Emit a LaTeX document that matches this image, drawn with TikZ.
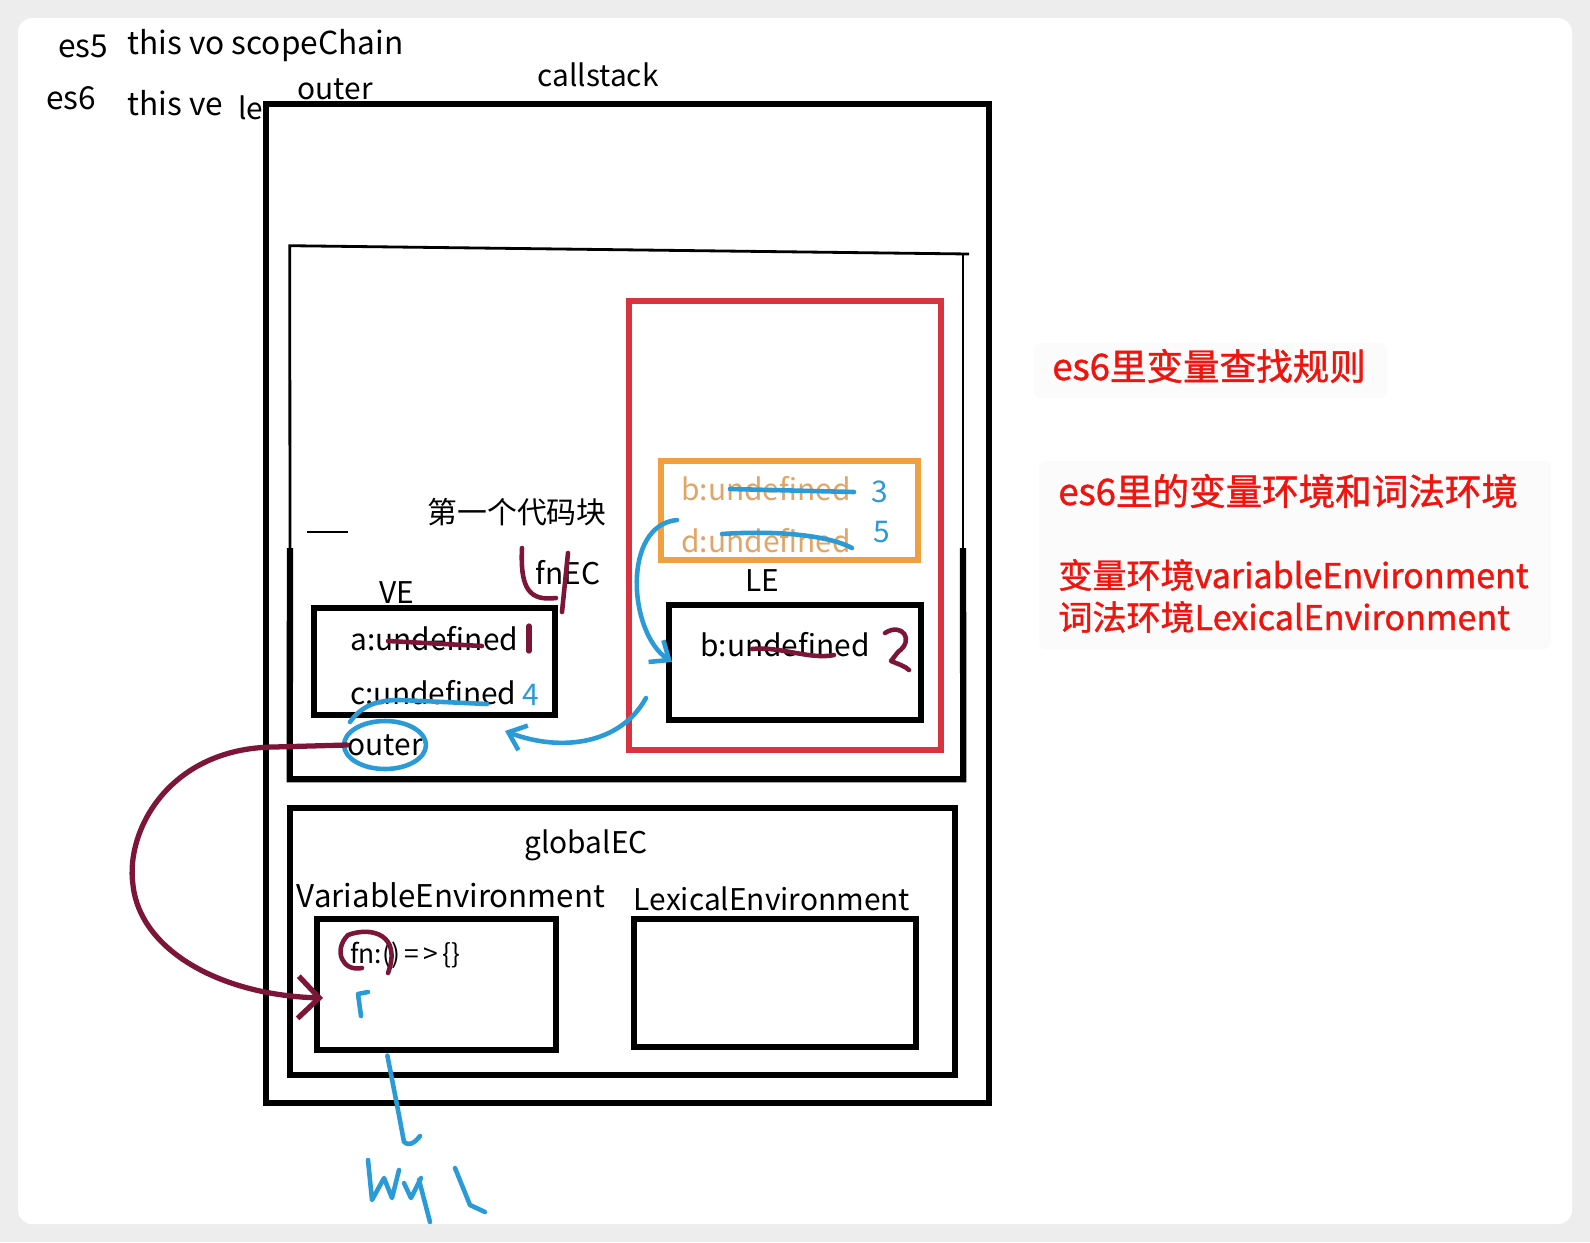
\documentclass[tikz,border=0pt]{standalone}
\usepackage{fontspec}
\setmainfont{Noto Sans CJK SC}
\newfontfamily\notefont[FakeBold=1.2]{Noto Sans CJK SC}
\usetikzlibrary{arrows.meta}

\definecolor{maroon}{HTML}{7D1538}
\definecolor{penblue}{HTML}{2B9BD8}
\definecolor{boxred}{HTML}{D9333F}
\definecolor{boxorange}{HTML}{F0A040}
\definecolor{fadedorange}{HTML}{E3A566}
\definecolor{notered}{HTML}{F0140F}

\tikzset{
  txt/.style={inner sep=0pt, font=\fontsize{17}{19}\selectfont},
  small/.style={inner sep=0pt, font=\fontsize{15}{17}\selectfont},
  note/.style={inner sep=0pt, text=notered, font=\notefont\fontsize{19.4}{21}\selectfont},
  ecbox/.style={draw=black, line width=3.6pt},
  envbox/.style={draw=black, line width=3pt},
  pen/.style={line width=2.6pt, line cap=round, line join=round},
  notebg/.style={fill=black!1.5, rounded corners=4pt},
}

\begin{document}
\begin{tikzpicture}[x=0.02cm, y=-0.02cm]
\useasboundingbox (0,0) rectangle (1590,1242);
\fill[black!7] (0,0) rectangle (1590,1242);
\fill[white, rounded corners=8pt] (18,18) rectangle (1572,1224);

% es5 / es6 headings
\node[txt, anchor=west, font=\fontsize{18}{20}\selectfont] (es5) at (58,46) {es5};
\node[txt, anchor=west, font=\fontsize{18}{20}\selectfont] (es5list) at (127,46) {this vo scopeChain};
\node[txt, anchor=west, font=\fontsize{18}{20}\selectfont] (es6) at (46,98) {es6};
\node[txt, anchor=west, font=\fontsize{18}{20}\selectfont] (es6list) at (127,103) {this ve};
\node[txt, anchor=west] (le) at (238,108) {le};
\node[txt] (outerhd) at (335,89) {outer};
\node[txt] (callstack) at (598,75) {callstack};

% call stack
\node[ecbox, minimum width=14.46cm, minimum height=19.98cm] (stack) at (627.5,603.5) {};

% fnEC frame (top part drawn thin)
\node[minimum width=13.46cm, minimum height=10.66cm] (fnec) at (626.5,512.5) {};
\draw[line width=1.6pt] (290,548) -- (fnec.north west) -- (969,254);
\draw[line width=1.6pt] (963,254) -- (963,548);
\draw[ecbox] (290,548) -- (fnec.south west) -- (fnec.south east) -- (963,548);
\draw[line width=1pt] (307,532) -- (348,532);
\node[txt] (block) at (517,512) {第一个代码块};
\node[txt] (fnlbl) at (568,573) {fnEC};

% VE of fnEC
\node[txt] (velbl) at (397,593) {VE};
\node[envbox, minimum width=4.82cm, minimum height=2.14cm] (ve) at (434.5,661.5) {};
\node[txt, anchor=west] (avar) at (350,639) {a:undefined};
\node[txt, anchor=west] (cvar) at (350,693) {c:undefined};
\node[txt, text=penblue] (four) at (531,695) {4};
\node[txt] (outer) at (385,745) {outer};

% block scope (red) with LE
\node[draw=boxred, line width=3pt, minimum width=6.24cm, minimum height=8.98cm] (scope) at (785,525.5) {};
\node[draw=boxorange, line width=3pt, minimum width=5.14cm, minimum height=1.98cm] (blockle) at (789.5,510.5) {};
\node[txt, anchor=west, text=fadedorange] (bblk) at (681,489) {b:undefined};
\node[txt, anchor=west, text=fadedorange] (dblk) at (681,541) {d:undefined};
\node[txt, text=penblue] (three) at (880,492) {3};
\node[txt, text=penblue] (five) at (882,532) {5};
\node[txt] (lelbl) at (762,581) {LE};
\node[envbox, minimum width=5.04cm, minimum height=2.3cm] (lebox) at (795,662.5) {};
\node[txt, anchor=west] (bvar) at (700,645) {b:undefined};

% global EC
\node[ecbox, minimum width=13.3cm, minimum height=5.34cm] (global) at (622.5,941.5) {};
\node[txt] (globallbl) at (586,845) {globalEC};
\node[txt, font=\fontsize{17.8}{19}\selectfont] (gvelbl) at (451,895) {VariableEnvironment};
\node[txt] (glelbl) at (772,899) {LexicalEnvironment};
\node[envbox, minimum width=4.78cm, minimum height=2.62cm] (gve) at (436.5,984.5) {};
\node[envbox, minimum width=5.64cm, minimum height=2.56cm] (gle) at (775,983) {};
\node[small, anchor=west] (fnvar) at (350,955) {fn:()\,=\,>\,\{\}};
\coordinate (fnslot) at (323,998);

% notes on the right
\fill[notebg] (1034,343) rectangle (1387,398);
\fill[notebg] (1039,461) rectangle (1551,649);
\node[note, anchor=west, font=\notefont\fontsize{20.8}{22}\selectfont] (rule) at (1052,366) {es6里变量查找规则};
\node[note, anchor=west, font=\notefont\fontsize{20.8}{22}\selectfont] (title) at (1058,491) {es6里的变量环境和词法环境};
\node[note, anchor=west] (vedef) at (1058,575) {变量环境variableEnvironment};
\node[note, anchor=west] (ledef) at (1058,617) {词法环境LexicalEnvironment};

% pen marks
\draw[pen, maroon] (388,641) -- (482,646);
\draw[pen, maroon, line width=3pt] (529,626) -- (529,651);
\draw[pen, maroon] (752,649) .. controls (780,646) and (810,660) .. (834,655);
\draw[pen, maroon] (885,633) .. controls (902,622) and (915,640) .. (898,652) -- (891,661) .. controls (898,664) and (905,666) .. (909,670);
\draw[pen, maroon] (522,548) .. controls (520,590) and (530,601) .. (556,598);
\draw[pen, maroon] (568,553) -- (562,612);
\draw[pen, penblue] (730,489) -- (854,492);
\draw[pen, penblue] (722,534) .. controls (780,530) and (830,536) .. (852,548);
\draw[pen, penblue] (350,722) .. controls (362,705) and (378,700) .. (400,700) -- (487,704);
\draw[pen, penblue] (outer) ellipse [x radius=0.82cm, y radius=0.48cm];
\draw[pen, penblue, -{Straight Barb[length=9pt, width=15pt]}] (677,520) .. controls (622,525) and (628,632) .. (672,662);
\draw[pen, penblue, -{Straight Barb[length=9pt, width=15pt]}] (646,698) .. controls (620,745) and (560,752) .. (505,731);
\draw[pen, maroon, line width=3pt, -{Straight Barb[length=12pt, width=24pt]}] (outer.west) -- (274,747) .. controls (170,748) and (125,830) .. (133,885) .. controls (140,950) and (220,995) .. (fnslot);
\draw[pen, maroon] (388,973) .. controls (402,935) and (372,926) .. (348,935) .. controls (333,950) and (342,972) .. (362,968);
\draw[pen, penblue] (368,992) -- (358,994) -- (361,1016);
\draw[pen, penblue] (gve.south west) ++(73,3) -- (398,1110) -- (404,1142) .. controls (408,1146) and (414,1144) .. (420,1136);
\draw[pen, penblue] (368,1160) -- (372,1200) -- (384,1178) -- (392,1198) -- (399,1170);
\draw[pen, penblue] (404,1183) -- (411,1198) -- (421,1178);
\draw[pen, penblue] (419,1180) -- (430,1222);
\draw[pen, penblue] (455,1168) -- (470,1205) -- (485,1212);
\end{tikzpicture}
\end{document}
